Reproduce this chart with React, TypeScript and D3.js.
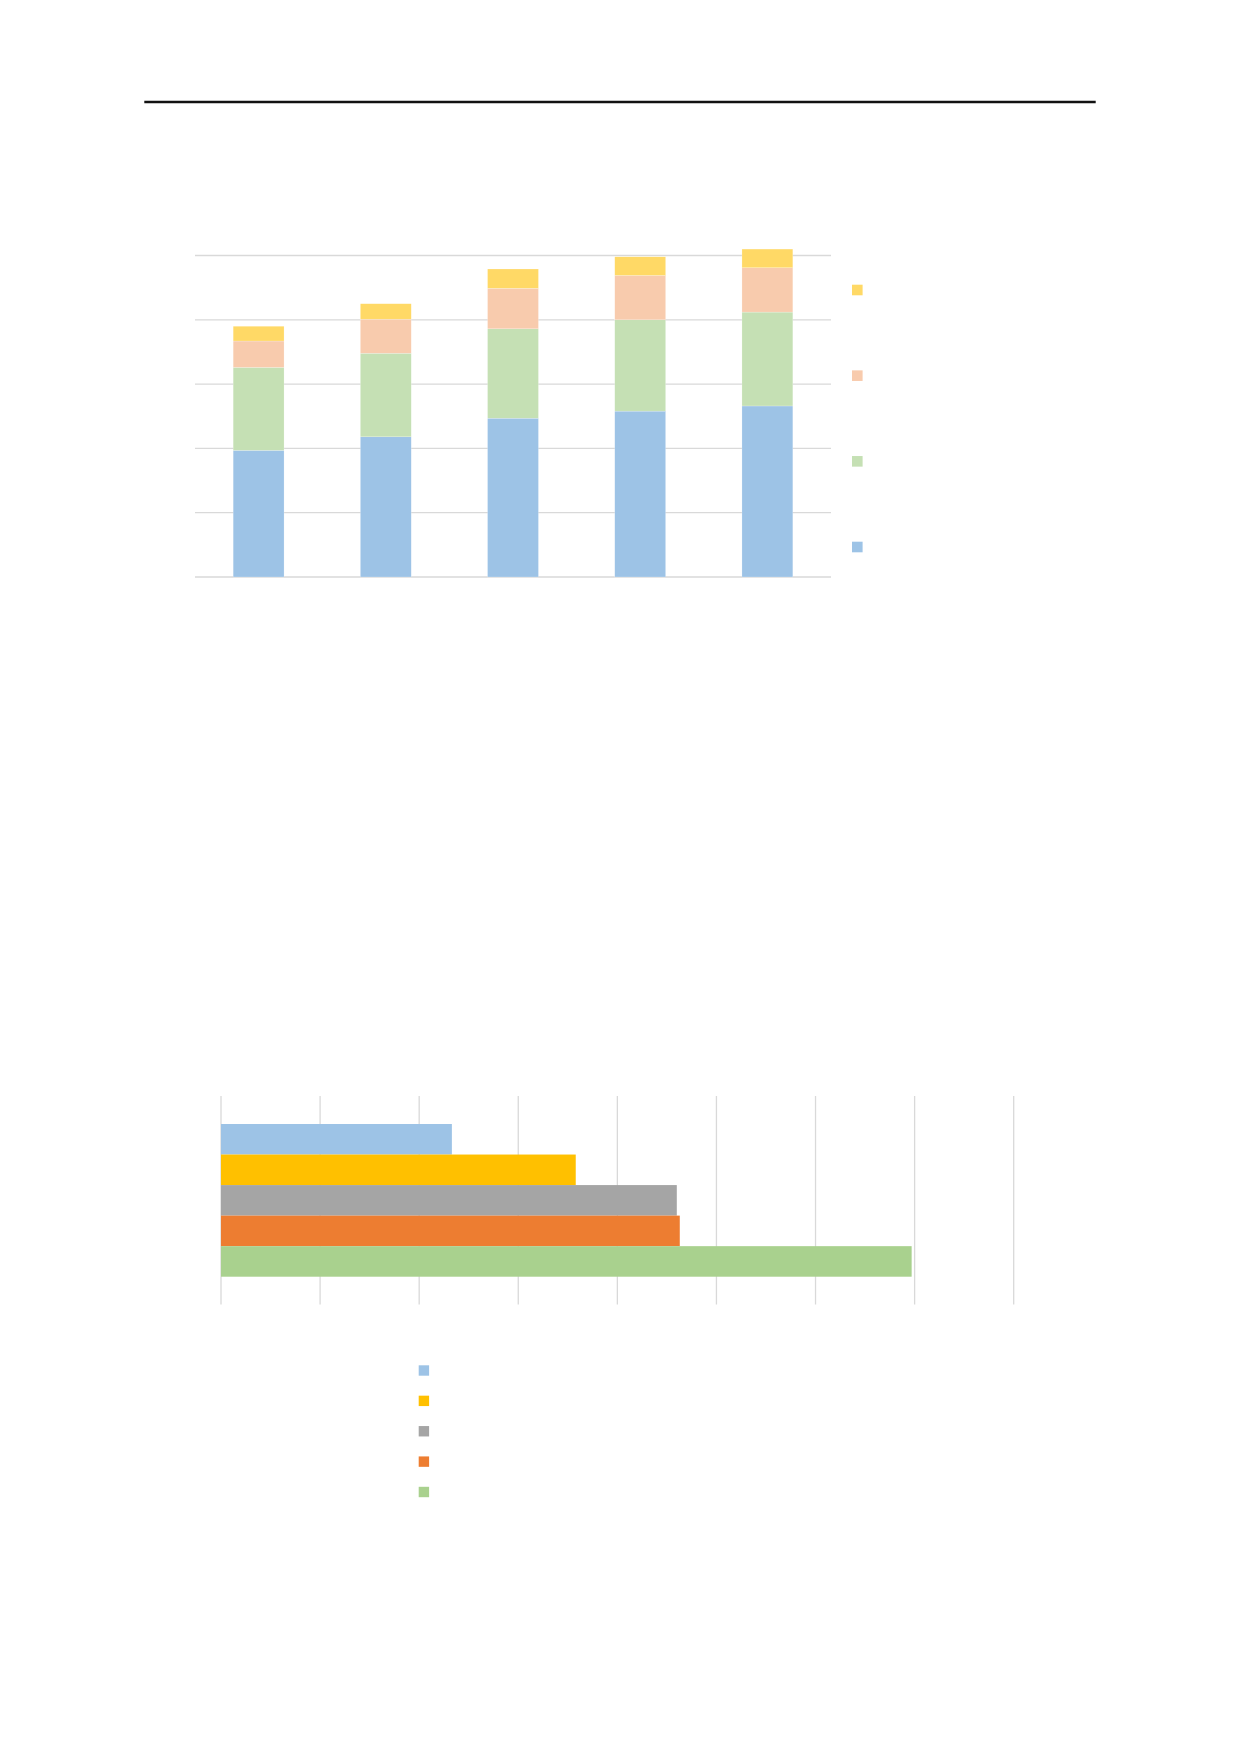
import React from 'react';
import * as d3 from 'd3';

// ---- Top chart: stacked columns (no visible labels in reference) ----
const categories = ['c1', 'c2', 'c3', 'c4', 'c5'];
const blueSeries = [197, 218, 247, 258, 266];
const greenSeries = [129, 130, 139, 142, 146];
const peachSeries = [41, 53, 63, 69, 69];
const yellowSeries = [23, 24, 30, 29, 29];
const stackKeys = ['blue', 'green', 'peach', 'yellow'];
const stackColors = ['#9DC3E6', '#C5E0B4', '#F8CBAD', '#FFD966'];
const topTicks = [0, 100, 200, 300, 400, 500];

// ---- Bottom chart: horizontal clustered bars ----
const barSeries = ['s1', 's2', 's3', 's4', 's5'];
const barValues = [23.3, 35.8, 46.0, 46.3, 69.7];
const barColors = ['#9DC3E6', '#FFC000', '#A5A5A5', '#ED7D31', '#A9D18E'];
const bottomTicks = [0, 10, 20, 30, 40, 50, 60, 70, 80];

export default function App() {
  const W = 1240;
  const H = 1754;

  // top chart scales
  const x = d3.scaleBand<string>().domain(categories).range([195, 831]).paddingInner(0.6).paddingOuter(0.3);
  const y = d3.scaleLinear().domain([0, 500]).range([577, 255.5]);
  const table = categories.map((c, i) => ({
    cat: c,
    blue: blueSeries[i],
    green: greenSeries[i],
    peach: peachSeries[i],
    yellow: yellowSeries[i],
  }));
  const stacked = d3.stack<any>().keys(stackKeys)(table);

  // top legend (top to bottom: yellow, peach, green, blue)
  const legendOrder = [...stackKeys].reverse();
  const legendY = d3.scalePoint<string>().domain(legendOrder).range([290, 547]);

  // bottom chart scales
  const bx = d3.scaleLinear().domain([0, 80]).range([221, 1013.7]);
  const by = d3.scaleBand<string>().domain(barSeries).range([1124, 1276.7]).padding(0);
  const bLegendY = d3.scalePoint<string>().domain(barSeries).range([1370.5, 1492]);

  return (
    <svg width={W} height={H} style={{ position: 'absolute', left: 0, top: 0, background: '#fff' }}>
      <rect x={0} y={0} width={W} height={H} fill="#ffffff" />
      {/* header rule */}
      <line x1={144.3} x2={1095.7} y1={102} y2={102} stroke="#111" strokeWidth={2.6} />

      {/* top chart gridlines */}
      {topTicks.map((t) => (
        <line key={t} x1={195} x2={831} y1={y(t)} y2={y(t)} stroke="#D9D9D9" strokeWidth={1.3} />
      ))}
      {/* stacked bars */}
      {stacked.map((layer, li) => (
        <g key={layer.key} fill={stackColors[li]}>
          {layer.map((d, i) => (
            <rect
              key={i}
              x={x(categories[i])}
              width={x.bandwidth()}
              y={y(d[1])}
              height={y(d[0]) - y(d[1])}
              stroke="#ffffff"
              strokeOpacity={0.5}
              strokeWidth={0.4}
            />
          ))}
        </g>
      ))}
      {/* top legend markers */}
      {legendOrder.map((k) => (
        <rect
          key={k}
          x={852}
          y={(legendY(k) as number) - 5.3}
          width={10.6}
          height={10.6}
          fill={stackColors[stackKeys.indexOf(k)]}
        />
      ))}

      {/* bottom chart gridlines */}
      {bottomTicks.map((t) => (
        <line key={t} x1={bx(t)} x2={bx(t)} y1={1096} y2={1304.5} stroke="#D9D9D9" strokeWidth={1.3} />
      ))}
      {/* horizontal bars */}
      {barSeries.map((s, i) => (
        <rect
          key={s}
          x={bx(0)}
          y={by(s)}
          width={bx(barValues[i]) - bx(0)}
          height={by.bandwidth()}
          fill={barColors[i]}
        />
      ))}
      {/* bottom legend markers */}
      {barSeries.map((s, i) => (
        <rect
          key={s}
          x={418.7}
          y={(bLegendY(s) as number) - 5.2}
          width={10.4}
          height={10.4}
          fill={barColors[i]}
        />
      ))}
    </svg>
  );
}
